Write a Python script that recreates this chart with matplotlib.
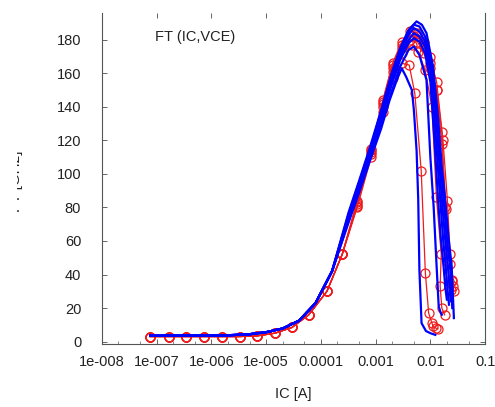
import matplotlib
matplotlib.use("Agg")
import matplotlib.pyplot as plt
from matplotlib.ticker import FixedLocator, LogLocator, NullFormatter
from matplotlib.transforms import Bbox, TransformedBbox

# ---- data (IC in A, FT in GHz) ----
# blue: simulated curves, shared low-current part
blue_ic_low = [7.6e-8, 1.6e-7, 3.2e-7, 6.3e-7, 1.3e-6, 2.5e-6, 5.0e-6, 1.0e-5,
               2.0e-5, 4.0e-5, 8.0e-5, 1.6e-4]
blue_ft_low = [3.5, 3.5, 3.5, 3.5, 3.6, 3.9, 4.4, 5.6, 7.8, 12.5, 23, 42]

blue_ic_1 = [3.2e-4, 5.0e-4, 7.9e-4, 1.26e-3, 1.8e-3, 2.5e-3, 3.0e-3, 3.6e-3, 4.6e-3,
             5.0e-3, 5.6e-3, 6.0e-3, 6.3e-3, 6.9e-3, 8.3e-3, 1.0e-2, 1.23e-2]
blue_ft_1 = [71, 89, 108, 127, 144, 157, 163, 158, 150, 138, 114, 85, 43, 11, 6.3, 5, 4]

blue_ic_2 = [3.2e-4, 5.0e-4, 7.9e-4, 1.26e-3, 2.0e-3, 2.8e-3, 4.0e-3, 5.0e-3, 6.3e-3,
             8.5e-3, 1.0e-2, 1.15e-2, 1.3e-2, 1.42e-2, 1.55e-2, 1.62e-2]
blue_ft_2 = [72, 91, 110, 130, 150, 164, 174, 176, 171, 156, 110, 80, 45, 21, 17, 16]

blue_ic_3 = [3.2e-4, 5.0e-4, 7.9e-4, 1.26e-3, 2.0e-3, 2.8e-3, 4.0e-3, 5.0e-3, 6.3e-3,
             8.0e-3, 1.0e-2, 1.2e-2, 1.38e-2, 1.55e-2, 1.74e-2, 1.88e-2, 2.0e-2]
blue_ft_3 = [73, 92, 112, 133, 154, 168, 178, 181, 179, 172, 155, 118, 85, 62, 45, 32, 25]

blue_ic_4 = [3.2e-4, 5.0e-4, 7.9e-4, 1.26e-3, 2.0e-3, 2.8e-3, 4.0e-3, 5.0e-3, 6.3e-3,
             8.0e-3, 1.0e-2, 1.2e-2, 1.51e-2, 1.72e-2, 1.9e-2, 2.07e-2, 2.19e-2]
blue_ft_4 = [74, 93, 113, 134, 156, 170, 180, 184, 182, 176, 162, 132, 85, 60, 45, 30, 22]

blue_ic_5 = [3.2e-4, 5.0e-4, 7.9e-4, 1.26e-3, 2.0e-3, 2.8e-3, 4.0e-3, 5.0e-3, 6.3e-3,
             8.0e-3, 1.0e-2, 1.26e-2, 1.62e-2, 1.9e-2, 2.09e-2, 2.25e-2, 2.34e-2]
blue_ft_5 = [75, 94, 114, 136, 158, 172, 183, 187, 185, 179, 166, 136, 85, 58, 45, 32, 24]

blue_ic_6 = [3.2e-4, 5.0e-4, 7.9e-4, 1.26e-3, 2.0e-3, 2.8e-3, 4.0e-3, 5.0e-3, 6.3e-3,
             8.0e-3, 1.0e-2, 1.3e-2, 1.74e-2, 2.05e-2, 2.29e-2, 2.45e-2, 2.51e-2]
blue_ft_6 = [76, 95, 115, 137, 160, 174, 185, 189, 188, 182, 170, 138, 85, 58, 45, 28, 20]

blue_ic_7 = [3.2e-4, 5.0e-4, 7.9e-4, 1.26e-3, 2.0e-3, 2.8e-3, 4.0e-3, 5.6e-3, 7.0e-3,
             8.5e-3, 1.12e-2, 1.38e-2, 1.62e-2, 1.86e-2, 2.15e-2, 2.45e-2, 2.6e-2, 2.69e-2]
blue_ft_7 = [77, 96, 116, 138, 161, 175, 186, 191, 189, 184, 164, 134, 104, 85, 62, 45, 25, 14]

# red: measured points, shared low-current part
red_ic_low = [7.6e-8, 1.65e-7, 3.5e-7, 7.2e-7, 1.55e-6, 3.3e-6, 6.8e-6, 1.45e-5,
              2.95e-5, 6.0e-5, 1.29e-4, 2.45e-4]
red_ft_low = [3, 3, 3, 3, 3, 3, 3.4, 5, 8.4, 16, 30, 52]

red_ic_1 = [4.6e-4, 8.3e-4, 1.35e-3, 2.04e-3, 3.0e-3, 4.1e-3, 5.2e-3, 6.8e-3, 8.1e-3,
            9.3e-3, 1.07e-2, 1.12e-2, 1.26e-2, 1.38e-2]
red_ft_1 = [80, 110, 137, 157, 166, 165, 148, 102, 41, 17, 11, 9, 8, 7.6]

red_ic_2 = [4.6e-4, 8.3e-4, 1.35e-3, 2.04e-3, 3.0e-3, 4.6e-3, 6.0e-3, 8.0e-3, 1.07e-2,
            1.29e-2, 1.58e-2, 1.51e-2, 1.62e-2, 1.82e-2]
red_ft_2 = [81, 112, 140, 161, 172, 177, 173, 162, 140, 86, 52, 33, 20, 16]

red_ic_3 = [4.6e-4, 8.3e-4, 1.35e-3, 2.04e-3, 3.0e-3, 4.3e-3, 5.8e-3, 7.6e-3, 9.8e-3,
            1.32e-2, 1.62e-2, 1.86e-2, 2.05e-2, 2.2e-2, 2.35e-2]
red_ft_3 = [82, 113, 142, 163, 175, 180, 179, 172, 163, 150, 125, 80, 48, 36, 31]

red_ic_4 = [4.6e-4, 8.3e-4, 1.35e-3, 2.04e-3, 3.0e-3, 4.3e-3, 5.8e-3, 7.6e-3, 9.8e-3,
            1.3e-2, 1.62e-2, 1.95e-2, 2.29e-2, 2.45e-2, 2.6e-2]
red_ft_4 = [83, 114, 143, 165, 177, 183, 182, 176, 166, 150, 118, 79, 46, 37, 33]

red_ic_5 = [4.6e-4, 8.3e-4, 1.35e-3, 2.04e-3, 3.0e-3, 4.3e-3, 5.8e-3, 7.6e-3, 9.8e-3,
            1.3e-2, 1.7e-2, 2.05e-2, 2.29e-2, 2.5e-2, 2.7e-2]
red_ft_5 = [84, 115, 144, 166, 179, 185, 184, 179, 170, 155, 120, 84, 52, 36, 30]

x_ticks = [1e-8, 1e-7, 1e-6, 1e-5, 1e-4, 1e-3, 1e-2, 1e-1]
x_tick_labels = ["1e-008", "1e-007", "1e-006", "1e-005", "0.0001", "0.001", "0.01", "0.1"]
y_ticks = [0, 20, 40, 60, 80, 100, 120, 140, 160, 180]

blue_curves = [(blue_ic_1, blue_ft_1), (blue_ic_2, blue_ft_2), (blue_ic_3, blue_ft_3),
               (blue_ic_4, blue_ft_4), (blue_ic_5, blue_ft_5), (blue_ic_6, blue_ft_6),
               (blue_ic_7, blue_ft_7)]
red_curves = [(red_ic_1, red_ft_1), (red_ic_2, red_ft_2), (red_ic_3, red_ft_3),
              (red_ic_4, red_ft_4), (red_ic_5, red_ft_5)]

plt.rcParams["font.family"] = ["Liberation Sans", "DejaVu Sans"]

fig = plt.figure(figsize=(4.95, 4.07), dpi=100)
ax = fig.add_axes([0.206, 0.155, 0.774, 0.813])

# red measured curves (drawn first, blue goes on top)
for ic, ft in red_curves:
    ax.plot(red_ic_low + ic, red_ft_low + ft, color="#ee1c1c", lw=0.9,
            marker="o", ms=6.5, mfc="none", mec="#ee1c1c", mew=0.9, zorder=2)

for ic, ft in blue_curves:
    ax.plot(blue_ic_low + ic, blue_ft_low + ft, color="#0000ff", lw=1.6,
            solid_joinstyle="round", zorder=3)

ax.set_xscale("log")
ax.set_xlim(1e-8, 1e-1)
ax.set_ylim(-1.4, 196)

ax.xaxis.set_major_locator(FixedLocator(x_ticks))
ax.set_xticklabels(x_tick_labels)
ax.xaxis.set_minor_locator(LogLocator(base=10, subs=(2.0, 5.0)))
ax.xaxis.set_minor_formatter(NullFormatter())
ax.set_yticks(y_ticks)

for side in ["left", "bottom", "right"]:
    ax.spines[side].set_color("#555555")
    ax.spines[side].set_linewidth(0.8)
ax.spines["top"].set_visible(False)

ax.tick_params(axis="both", which="major", direction="in", length=3.5, width=0.7,
               color="#666666", labelsize=10.5, labelcolor="#222222")
ax.tick_params(axis="y", right=True, pad=15)
ax.tick_params(axis="x", pad=8, top=True)
ax.tick_params(axis="x", which="minor", direction="in", length=2.5, width=0.6,
               color="#777777")

ax.set_xlabel("IC [A]", fontsize=10.5, color="#222222", labelpad=13)

ax.text(0.138, 0.927, "FT (IC,VCE)", transform=ax.transAxes, fontsize=10.5,
        ha="left", va="center", color="#222222")

# y label is cut off at the left edge in the reference
ylab = fig.text(0.047, 0.555, "FT [GHz]", rotation=90, ha="right", va="center",
                fontsize=11, color="#222222")
ylab.set_clip_on(True)
ylab.set_clip_box(TransformedBbox(Bbox([[17 / 495, 0], [1, 1]]), fig.transFigure))

fig.savefig("out.png", dpi=100, facecolor="white")
